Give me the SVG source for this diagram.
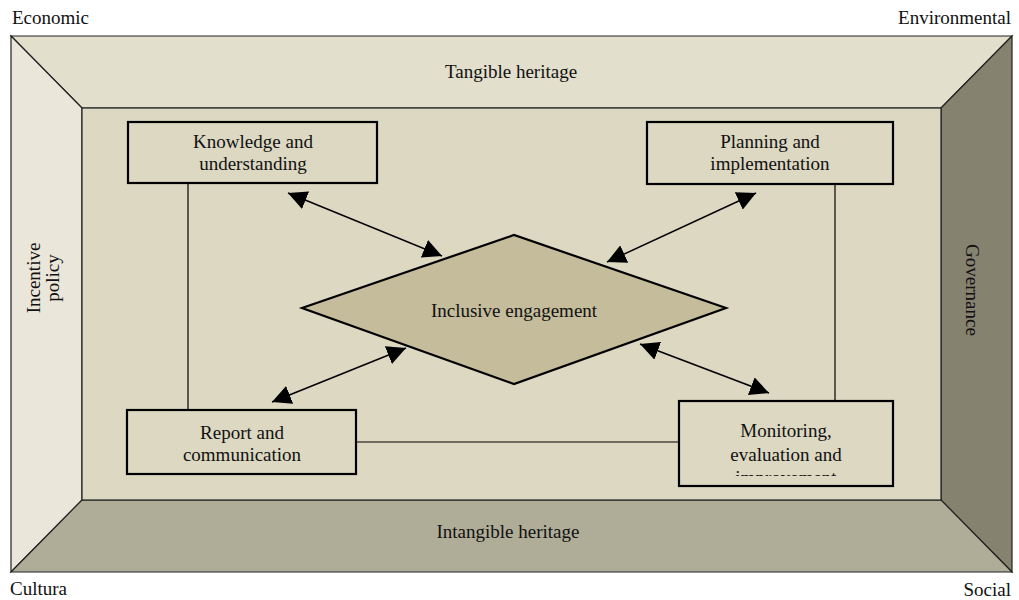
<svg xmlns="http://www.w3.org/2000/svg" width="1019" height="600" viewBox="0 0 1019 600">
<style>
text{font-family:"Liberation Serif","Times New Roman","DejaVu Serif",serif;font-size:19px;fill:#111}
.c{text-anchor:middle}
.fr{stroke:#222;stroke-width:1.2;stroke-linejoin:miter}
.box{fill:#DCD8C2;stroke:#000;stroke-width:2.2}
.ln{stroke:#000;stroke-width:1.2;fill:none}
.ar{stroke:#000;stroke-width:1.5;fill:none;marker-start:url(#ah);marker-end:url(#ah)}
</style>
<defs>
<marker id="ah" viewBox="0 0 10 10" refX="10" refY="5" markerWidth="19" markerHeight="19" markerUnits="userSpaceOnUse" orient="auto-start-reverse">
<path d="M0,0 L10,5 L0,10 z" fill="#000"/>
</marker>
<clipPath id="mclip"><rect x="679" y="401" width="214" height="75"/></clipPath>
</defs>
<rect width="1019" height="600" fill="#fff"/>
<g id="frame">
<polygon class="fr" points="11,36 1012,36 941,108 82,108" fill="#E2DFCC"/>
<polygon class="fr" points="11,36 82,108 82,500 11,572" fill="#EAE6DA"/>
<polygon class="fr" points="1012,36 1012,572 941,500 941,108" fill="#858270"/>
<polygon class="fr" points="11,572 82,500 941,500 1012,572" fill="#AFAD98"/>
<rect class="fr" x="82" y="108" width="859" height="392" fill="#DCD8C2"/>
</g>
<g id="labels" font-family="Liberation Serif, serif">
<text x="12" y="24">Economic</text>
<text x="1011" y="24" text-anchor="end">Environmental</text>
<text x="10" y="595">Cultura</text>
<text x="1011" y="596" text-anchor="end">Social</text>
<text class="c" x="511" y="78">Tangible heritage</text>
<text class="c" x="508" y="538">Intangible heritage</text>
<text class="c" transform="translate(40,278) rotate(-90)">Incentive</text>
<text class="c" transform="translate(59,278) rotate(-90)">policy</text>
<text class="c" transform="translate(966,290) rotate(90)">Governance</text>
</g>
<g id="connectors">
<line class="ln" x1="188" y1="183" x2="188" y2="410"/>
<line class="ln" x1="835" y1="184" x2="835" y2="401"/>
<line class="ln" x1="356" y1="442" x2="679" y2="442"/>
<line class="ar" x1="288" y1="193" x2="442" y2="256"/>
<line class="ar" x1="756" y1="193" x2="607" y2="262"/>
<line class="ar" x1="272" y1="402" x2="406" y2="348"/>
<line class="ar" x1="640" y1="344" x2="769" y2="393"/>
</g>
<g id="inclusive">
<polygon points="302,308 514,235 726,308 514,384" fill="#C4BC9A" stroke="#000" stroke-width="2.2"/>
<text class="c" x="514" y="317">Inclusive engagement</text>
</g>
<g id="knowledge">
<rect class="box" x="128" y="122" width="249" height="61"/>
<text class="c" x="253" y="148">Knowledge and</text>
<text class="c" x="253" y="170">understanding</text>
</g>
<g id="planning">
<rect class="box" x="647" y="122" width="246" height="62"/>
<text class="c" x="770" y="148">Planning and</text>
<text class="c" x="770" y="170">implementation</text>
</g>
<g id="report">
<rect class="box" x="127" y="410" width="229" height="64"/>
<text class="c" x="242" y="439">Report and</text>
<text class="c" x="242" y="461">communication</text>
</g>
<g id="monitoring">
<rect class="box" x="679" y="401" width="214" height="85"/>
<g clip-path="url(#mclip)">
<text class="c" x="786" y="437">Monitoring,</text>
<text class="c" x="786" y="461">evaluation and</text>
<text class="c" x="786" y="484">improvement</text>
</g>
</g>
</svg>
